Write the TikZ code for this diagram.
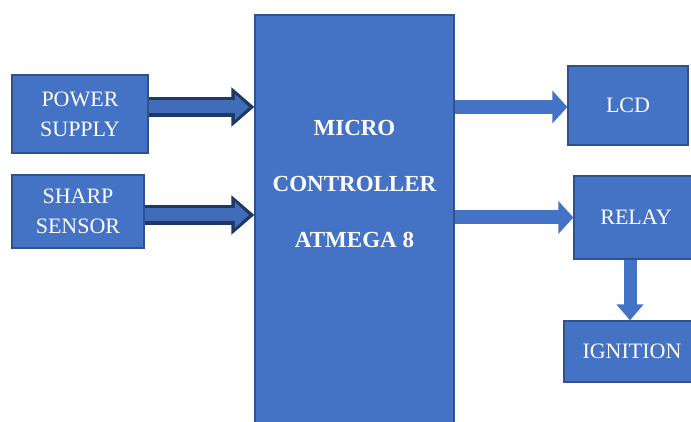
\documentclass[tikz,border=0pt]{standalone}
\usepackage{fontspec}
\setmainfont{Liberation Serif}
\usepackage{xcolor}
\usepackage{tikz}
\usetikzlibrary{arrows.meta}

\definecolor{blkfill}{HTML}{4472C4}
\definecolor{blkline}{HTML}{2F528F}
\definecolor{navy}{HTML}{203864}

\tikzset{
  blk/.style={fill=blkfill, draw=blkline, line width=1.2pt, text=white,
    align=center, font=\fontsize{22}{30}\selectfont},
  inarrout/.style={navy, line width=20pt, -{Triangle[width=38pt,length=23pt]}},
  inarrin/.style={blkfill!95!black, line width=13pt, shorten >=5.5pt,
    -{Triangle[width=25pt,length=14pt]}},
  outarr/.style={blkfill, line width=14pt, -{Triangle[width=32pt,length=15pt]}},
}

\begin{document}
\begin{tikzpicture}[x=1pt, y=1pt]
	\useasboundingbox (0,0) rectangle (691,421);
	\clip (0,0) rectangle (691,421);

	% blocks
	\node[blk, minimum width=136pt, minimum height=78pt] (ps) at (80,307) {POWER\\SUPPLY};
	\node[blk, minimum width=132pt, minimum height=73pt] (ss) at (78,209.5) {SHARP\\SENSOR};
	\node[blk, minimum width=199pt, minimum height=426pt] (mc) at (354.5,193) {};
	\node[text=white, align=center, font=\fontsize{23}{56}\selectfont\bfseries] (mctxt) at (354.5,237) {MICRO\\CONTROLLER\\ATMEGA 8};
	\node[blk, minimum width=120pt, minimum height=79pt] (lcd) at (628,315.5) {LCD};
	\node[blk, minimum width=124pt, minimum height=83pt] (relay) at (636,203.5) {RELAY};
	\node[blk, minimum width=136pt, minimum height=61pt] (ign) at (632,69.5) {IGNITION};

	% inputs
	\draw[inarrout] ([yshift=7pt]ps.east) -- ([yshift=7pt]ps.east -| mc.west);
	\draw[inarrin] ([yshift=7pt]ps.east) -- ([yshift=7pt]ps.east -| mc.west);
	\draw[inarrout] ([yshift=-3.5pt]ss.east) -- ([yshift=-3.5pt]ss.east -| mc.west);
	\draw[inarrin] ([yshift=-3.5pt]ss.east) -- ([yshift=-3.5pt]ss.east -| mc.west);

	% outputs
	\draw[outarr] ([yshift=-1.5pt]lcd.west -| mc.east) -- ([yshift=-1.5pt]lcd.west);
	\draw[outarr] (relay.west -| mc.east) -- (relay.west);
	\draw[outarr, line width=13pt, -{Triangle[width=26pt,length=16pt]}] ([xshift=-6pt]relay.south) -- ([xshift=-6pt]relay.south |- ign.north);
\end{tikzpicture}
\end{document}
